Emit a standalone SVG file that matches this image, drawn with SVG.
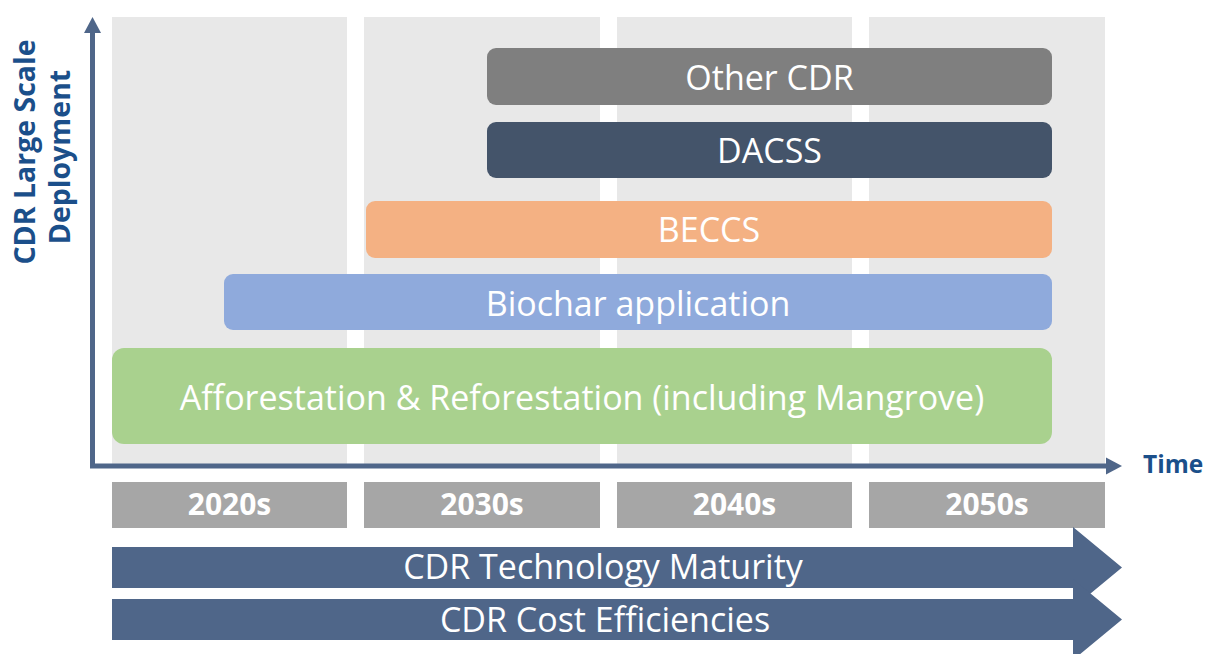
<svg xmlns="http://www.w3.org/2000/svg" width="1208" height="654" viewBox="0 0 1208 654">
  <style>
    .col { fill: #E8E8E8; }
    .decade { fill: #A6A6A6; }
    .decade-t { font-family: "Open Sans", "Liberation Sans", sans-serif; font-weight: 700; font-size: 30px; fill: #FFFFFF; text-anchor: middle; }
    .bar-t { font-family: "Open Sans", "Liberation Sans", sans-serif; font-size: 34px; fill: #FFFFFF; text-anchor: middle; }
    .axis-t { font-family: "Open Sans", "Liberation Sans", sans-serif; font-weight: 700; fill: #1B4F8A; }
    .axis { fill: none; stroke: #4F6689; stroke-width: 5; }
    .head { fill: #4F6689; }
    .band { fill: #4F6689; }
  </style>

  <!-- decade columns -->
  <g id="columns">
    <rect class="col" x="112" y="17" width="235" height="447"/>
    <rect class="col" x="364" y="17" width="236" height="447"/>
    <rect class="col" x="617" y="17" width="235" height="447"/>
    <rect class="col" x="869" y="17" width="236" height="447"/>
  </g>

  <!-- deployment bars -->
  <g id="other-cdr">
    <rect x="487" y="48" width="565" height="57" rx="9" fill="#7F7F7F"/>
    <text class="bar-t" x="769.5" y="90">Other CDR</text>
  </g>
  <g id="dacss">
    <rect x="487" y="122" width="565" height="56" rx="9" fill="#44546A"/>
    <text class="bar-t" x="769.5" y="163">DACSS</text>
  </g>
  <g id="beccs">
    <rect x="366" y="201" width="686" height="57" rx="9" fill="#F4B183"/>
    <text class="bar-t" x="709" y="242">BECCS</text>
  </g>
  <g id="biochar">
    <rect x="224" y="274" width="828" height="56" rx="9" fill="#8FAADC"/>
    <text class="bar-t" x="638" y="316">Biochar application</text>
  </g>
  <g id="afforestation">
    <rect x="112" y="348" width="940" height="96" rx="12" fill="#A9D18E"/>
    <text class="bar-t" x="582" y="410">Afforestation &amp; Reforestation (including Mangrove)</text>
  </g>

  <!-- axes -->
  <g id="connectors">
    <path class="axis" d="M92.5,32 V466 H1108"/>
    <polygon class="head" points="92.5,17 101,33 84,33"/>
    <polygon class="head" points="1122,466 1106,474.5 1106,457.5"/>
  </g>

  <!-- axis labels -->
  <g id="y-label">
    <text class="axis-t" font-size="28.5" text-anchor="middle" transform="translate(35,152) rotate(-90)">CDR Large Scale</text>
    <text class="axis-t" font-size="28.5" text-anchor="middle" transform="translate(70,157) rotate(-90)">Deployment</text>
  </g>
  <g id="x-label">
    <text class="axis-t" font-size="24.5" x="1143" y="473">Time</text>
  </g>

  <!-- decade labels -->
  <g id="decade-2020s">
    <rect class="decade" x="112" y="482" width="235" height="46"/>
    <text class="decade-t" x="229.5" y="515">2020s</text>
  </g>
  <g id="decade-2030s">
    <rect class="decade" x="364" y="482" width="236" height="46"/>
    <text class="decade-t" x="482" y="515">2030s</text>
  </g>
  <g id="decade-2040s">
    <rect class="decade" x="617" y="482" width="235" height="46"/>
    <text class="decade-t" x="734.5" y="515">2040s</text>
  </g>
  <g id="decade-2050s">
    <rect class="decade" x="869" y="482" width="236" height="46"/>
    <text class="decade-t" x="987" y="515">2050s</text>
  </g>

  <!-- progress arrows -->
  <g id="maturity">
    <polygon class="band" points="112,547 1073,547 1073,527 1122,567.5 1073,608 1073,588 112,588"/>
    <text class="bar-t" x="603" y="579">CDR Technology Maturity</text>
  </g>
  <g id="cost">
    <polygon class="band" points="112,599 1073,599 1073,579 1122,619.5 1073,660 1073,640 112,640"/>
    <text class="bar-t" x="605" y="632">CDR Cost Efficiencies</text>
  </g>
</svg>
